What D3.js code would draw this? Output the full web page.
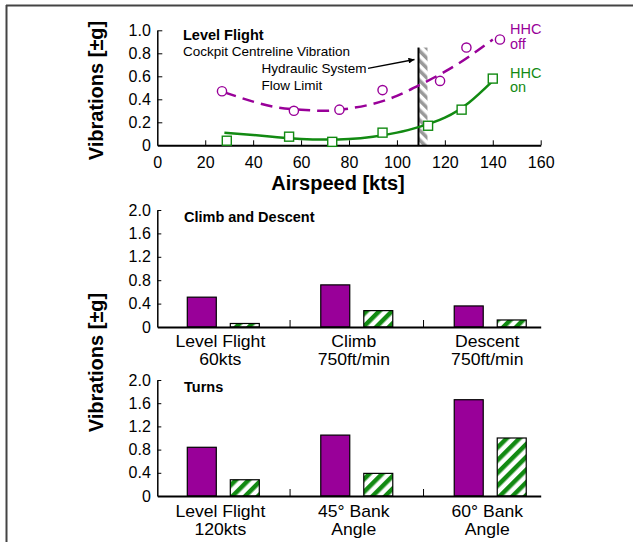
<!DOCTYPE html>
<html>
<head>
<meta charset="utf-8">
<script src="https://cdn.jsdelivr.net/npm/d3@7"></script>
<style>
html,body{margin:0;padding:0;background:#fff;}
svg{display:block;font-family:"Liberation Sans",Arial,Helvetica,sans-serif;}
</style>
</head>
<body>
<svg id="chart" width="633" height="542"></svg>
<script>
// ---------------- DATA ----------------
const speedTicks = [0, 20, 40, 60, 80, 100, 120, 140, 160];
const vibTicksTop = [0, 0.2, 0.4, 0.6, 0.8, 1.0];
const vibTicksBar = [0, 0.4, 0.8, 1.2, 1.6, 2.0];

const hhcOffSpeed = [27, 57, 76, 94, 118, 129, 143];
const hhcOffVib   = [0.47, 0.30, 0.31, 0.48, 0.56, 0.85, 0.92];
const hhcOnSpeed  = [29, 55, 73, 94, 113, 127, 140];
const hhcOnVib    = [0.04, 0.075, 0.03, 0.11, 0.17, 0.31, 0.58];

const fitSpeed  = [28, 40, 50, 60, 70, 80, 90, 100, 110, 120, 130, 140];
const hhcOffFit = [0.46, 0.38, 0.33, 0.31, 0.30, 0.32, 0.36, 0.43, 0.53, 0.64, 0.77, 0.92];
const hhcOnFit  = [0.11, 0.09, 0.07, 0.055, 0.05, 0.055, 0.075, 0.11, 0.165, 0.24, 0.37, 0.56];

const flowLimitSpeed = 109;
const flowLimitTop = 0.85;

const climbCats = [["Level Flight", "60kts"], ["Climb", "750ft/min"], ["Descent", "750ft/min"]];
const climbOff  = [0.51, 0.72, 0.36];
const climbOn   = [0.06, 0.28, 0.12];

const turnCats = [["Level Flight", "120kts"], ["45° Bank", "Angle"], ["60° Bank", "Angle"]];
const turnOff  = [0.84, 1.05, 1.66];
const turnOn   = [0.28, 0.39, 1.00];

// ---------------- STYLE ----------------
const PURPLE = "#990099";
const GREEN = "#128a12";
const FONT_TICK = 16;

const svg = d3.select("#chart");
const defs = svg.append("defs");

const hp = defs.append("pattern").attr("id", "greenHatch")
  .attr("patternUnits", "userSpaceOnUse").attr("width", 9).attr("height", 9)
  .attr("patternTransform", "rotate(45)");
hp.append("rect").attr("width", 9).attr("height", 9).attr("fill", "#fff");
hp.append("rect").attr("width", 4.5).attr("height", 9).attr("fill", GREEN);

const gp = defs.append("pattern").attr("id", "grayHatch")
  .attr("patternUnits", "userSpaceOnUse").attr("width", 7).attr("height", 7)
  .attr("patternTransform", "rotate(-45)");
gp.append("rect").attr("width", 7).attr("height", 7).attr("fill", "#fff");
gp.append("rect").attr("width", 3.5).attr("height", 7).attr("fill", "#999");

defs.append("marker").attr("id", "arrow")
  .attr("viewBox", "0 0 10 10").attr("refX", 10).attr("refY", 5)
  .attr("markerWidth", 12).attr("markerHeight", 6).attr("markerUnits", "userSpaceOnUse")
  .attr("orient", "auto")
  .append("path").attr("d", "M0,0L10,5L0,10Z").attr("fill", "#000");

// frame
svg.append("line").attr("x1", 6).attr("x2", 633).attr("y1", 5.5).attr("y2", 5.5)
  .attr("stroke", "#444").attr("stroke-width", 2);
svg.append("line").attr("x1", 6.5).attr("x2", 6.5).attr("y1", 5).attr("y2", 542)
  .attr("stroke", "#444").attr("stroke-width", 2);

const fmt = d => d === 0 ? "0" : d3.format(".1f")(d);

function styleAxis(g, w) {
  g.selectAll(".domain").attr("stroke", "#000").attr("stroke-width", w);
  g.selectAll(".tick line").attr("stroke", "#000").attr("stroke-width", 1);
  g.selectAll(".tick text").attr("font-size", FONT_TICK).attr("fill", "#000")
    .attr("font-family", "Liberation Sans, Arial, sans-serif");
}

// ---------------- TOP: Level flight ----------------
const xS = d3.scaleLinear().domain([0, 160]).range([157.3, 540.7]);
const yS = d3.scaleLinear().domain([0, 1]).range([145.3, 30.3]);

svg.append("rect")
  .attr("x", xS(flowLimitSpeed)).attr("y", yS(flowLimitTop))
  .attr("width", 9).attr("height", yS(0) - yS(flowLimitTop))
  .attr("fill", "url(#grayHatch)");
svg.append("line")
  .attr("x1", xS(flowLimitSpeed)).attr("x2", xS(flowLimitSpeed))
  .attr("y1", yS(flowLimitTop)).attr("y2", yS(0))
  .attr("stroke", "#000").attr("stroke-width", 2);

const gxTop = svg.append("g").attr("transform", `translate(0,${yS(0)})`)
  .call(d3.axisBottom(xS).tickValues(speedTicks).tickSizeInner(-5).tickSizeOuter(0).tickPadding(11).tickFormat(d3.format("d")));
styleAxis(gxTop, 2);
gxTop.selectAll(".tick").filter(d => d === 0).select("line").remove();
const gyTop = svg.append("g").attr("transform", `translate(${xS(0)},0)`)
  .call(d3.axisLeft(yS).tickValues(vibTicksTop).tickSizeInner(-5).tickSizeOuter(0).tickPadding(6.5).tickFormat(fmt));
styleAxis(gyTop, 1.5);
gyTop.selectAll(".tick").filter(d => d === 0).select("line").remove();

const lineFit = d3.line().x(d => xS(d[0])).y(d => yS(d[1])).curve(d3.curveNatural);
svg.append("path").datum(fitSpeed.map((s, i) => [s, hhcOffFit[i]]))
  .attr("d", lineFit).attr("fill", "none").attr("stroke", PURPLE)
  .attr("stroke-width", 2.5).attr("stroke-dasharray", "12,7");
svg.append("path").datum(fitSpeed.map((s, i) => [s, hhcOnFit[i]]))
  .attr("d", lineFit).attr("fill", "none").attr("stroke", GREEN)
  .attr("stroke-width", 2.5);

svg.append("g").selectAll("circle").data(hhcOffSpeed.map((s, i) => [s, hhcOffVib[i]]))
  .join("circle").attr("cx", d => xS(d[0])).attr("cy", d => yS(d[1])).attr("r", 4.6)
  .attr("fill", "#fff").attr("stroke", PURPLE).attr("stroke-width", 1.4);
svg.append("g").selectAll("rect").data(hhcOnSpeed.map((s, i) => [s, hhcOnVib[i]]))
  .join("rect").attr("x", d => xS(d[0]) - 4.5).attr("y", d => yS(d[1]) - 4.5)
  .attr("width", 9).attr("height", 9)
  .attr("fill", "#fff").attr("stroke", GREEN).attr("stroke-width", 1.4);

svg.append("text").attr("x", 183).attr("y", 39.5).attr("font-size", 14.5).attr("font-weight", "bold").text("Level Flight");
svg.append("text").attr("x", 183).attr("y", 55.8).attr("font-size", 13.5).text("Cockpit Centreline Vibration");
svg.append("text").attr("x", 261.5).attr("y", 72.8).attr("font-size", 13.5).text("Hydraulic System");
svg.append("text").attr("x", 261.5).attr("y", 89.5).attr("font-size", 13.5).text("Flow Limit");
svg.append("line").attr("x1", 368).attr("y1", 68.3)
  .attr("x2", xS(flowLimitSpeed) - 4).attr("y2", 59.5)
  .attr("stroke", "#000").attr("stroke-width", 1.3).attr("marker-end", "url(#arrow)");

svg.append("text").attr("x", 510).attr("y", 34).attr("font-size", 14.5).attr("fill", PURPLE).text("HHC");
svg.append("text").attr("x", 510).attr("y", 49).attr("font-size", 14.5).attr("fill", PURPLE).text("off");
svg.append("text").attr("x", 510).attr("y", 77.5).attr("font-size", 14.5).attr("fill", GREEN).text("HHC");
svg.append("text").attr("x", 510).attr("y", 92).attr("font-size", 14.5).attr("fill", GREEN).text("on");

svg.append("text").attr("x", 338).attr("y", 190).attr("text-anchor", "middle")
  .attr("font-size", 20).attr("font-weight", "bold").text("Airspeed [kts]");
svg.append("text").attr("transform", "translate(103,90.5) rotate(-90)").attr("text-anchor", "middle")
  .attr("font-size", 20).attr("font-weight", "bold").text("Vibrations [±g]");
svg.append("text").attr("transform", "translate(103,362.5) rotate(-90)").attr("text-anchor", "middle")
  .attr("font-size", 20).attr("font-weight", "bold").text("Vibrations [±g]");

// ---------------- BAR CHARTS ----------------
function barChart(cats, offVals, onVals, y0, y1, title, labelY) {
  const keys = cats.map(c => c.join(" "));
  const x0 = d3.scaleBand().domain(keys).range([156.6, 557]);
  const x1 = d3.scaleBand().domain(["off", "on"]).range([30.7, 102.7]).paddingInner(0.326);
  const y = d3.scaleLinear().domain([0, 2]).range([y0, y1]);

  svg.append("g").selectAll("line").data(keys.slice(1)).join("line")
    .attr("x1", d => x0(d)).attr("x2", d => x0(d))
    .attr("y1", y(0)).attr("y2", y(0) - 7).attr("stroke", "#000").attr("stroke-width", 1);

  const rows = keys.map((k, i) => ({ k, off: offVals[i], on: onVals[i] }));
  svg.append("g").selectAll("rect").data(rows).join("rect")
    .attr("x", d => x0(d.k) + x1("off")).attr("width", x1.bandwidth())
    .attr("y", d => y(d.off)).attr("height", d => y(0) - y(d.off))
    .attr("fill", PURPLE).attr("stroke", "#000").attr("stroke-width", 1.2);
  svg.append("g").selectAll("rect").data(rows).join("rect")
    .attr("x", d => x0(d.k) + x1("on")).attr("width", x1.bandwidth())
    .attr("y", d => y(d.on)).attr("height", d => y(0) - y(d.on))
    .attr("fill", "url(#greenHatch)").attr("stroke", "#000").attr("stroke-width", 1.2);

  const xl = d3.scaleLinear().domain([0, 1]).range([157.3, 540.7]);
  const gx = svg.append("g").attr("transform", `translate(0,${y(0)})`)
    .call(d3.axisBottom(xl).tickValues([]).tickSizeOuter(0));
  styleAxis(gx, 2);
  const gy = svg.append("g").attr("transform", `translate(157.3,0)`)
    .call(d3.axisLeft(y).tickValues(vibTicksBar).tickSizeInner(-4).tickSizeOuter(0).tickPadding(6.5).tickFormat(fmt));
  styleAxis(gy, 1.5);
  gy.selectAll(".tick").filter(d => d === 0).select("line").remove();

  // category labels (two separate lines, slightly widened like the reference)
  const cx = i => x0(keys[i]) + x0.bandwidth() / 2 - 3;
  [0, 1].forEach(line => {
    svg.append("g").selectAll("text").data(cats).join("text")
      .attr("transform", (c, i) => `translate(${cx(i)},${labelY + line * 17.9}) scale(1.1,1)`)
      .attr("text-anchor", "middle").attr("font-size", 16).text(c => c[line]);
  });

  svg.append("text").attr("x", 184).attr("y", y1 + 12).attr("font-size", 14.5)
    .attr("font-weight", "bold").text(title);
}

barChart(climbCats, climbOff, climbOn, 327, 210, "Climb and Descent", 346.7);
barChart(turnCats, turnOff, turnOn, 496, 380, "Turns", 516.7);
</script>
</body>
</html>
